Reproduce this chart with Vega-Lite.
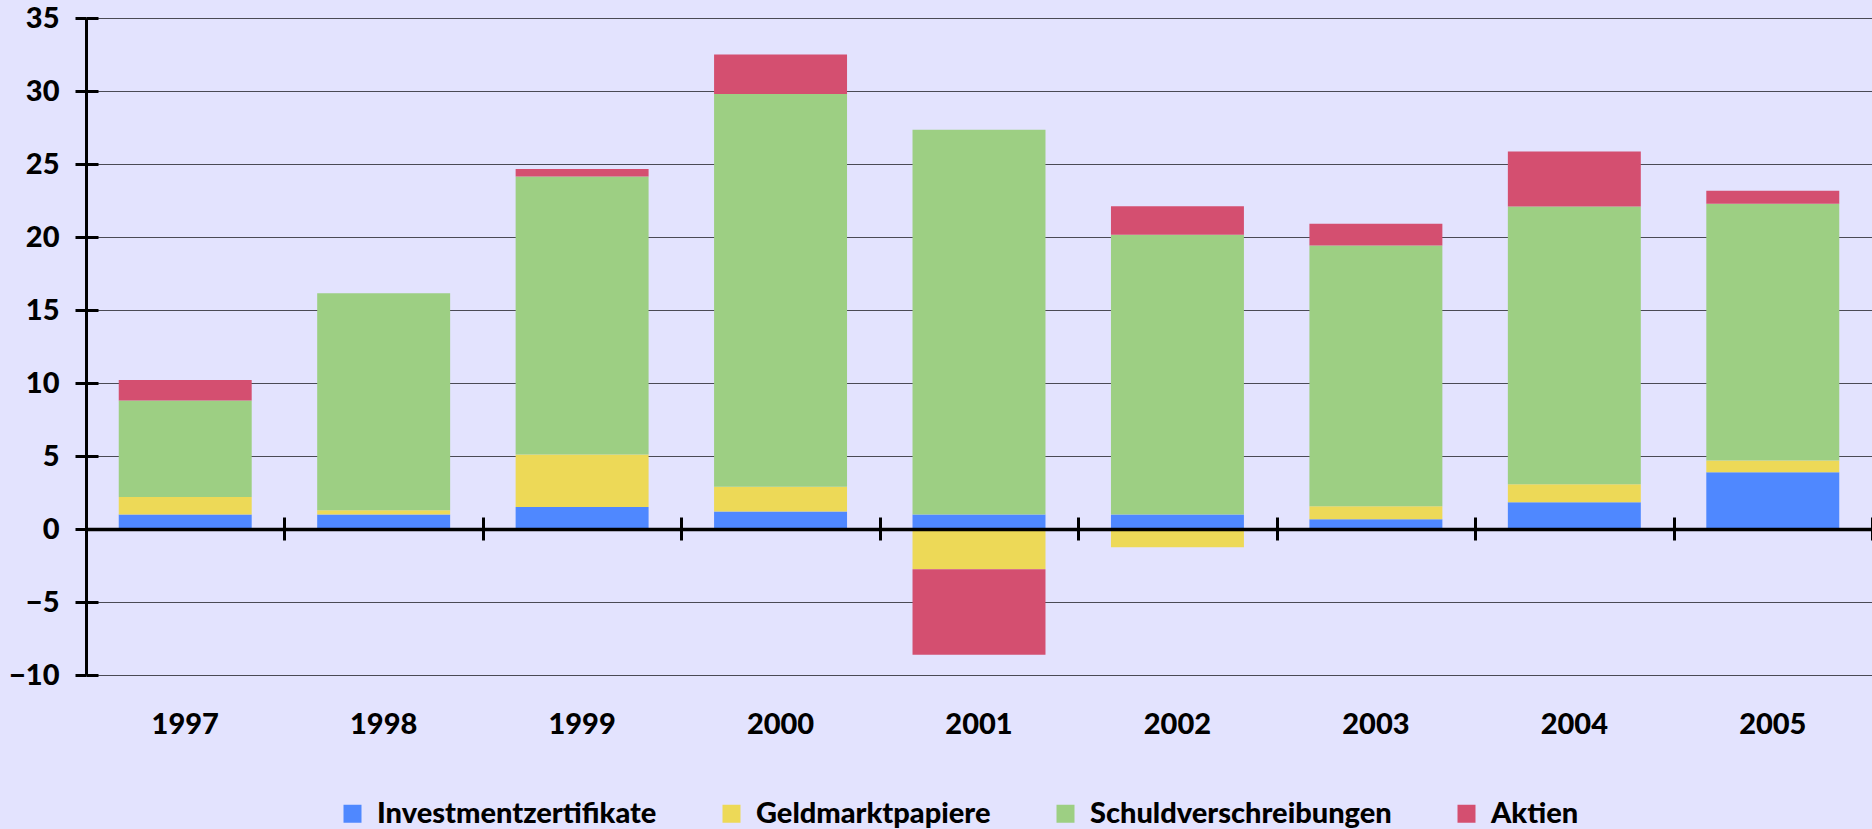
{
  "$schema": "https://vega.github.io/schema/vega-lite/v6.json",
  "width": 1786,
  "height": 657,
  "autosize": {"type": "none"},
  "padding": {"left": 86, "top": 18, "right": 0, "bottom": 154},
  "background": "#E3E3FE",
  "config": {
    "view": {"stroke": null},
    "font": "Lato",
    "axis": {"labelFont": "Lato", "labelFontWeight": 900, "labelColor": "#000000"},
    "legend": {"labelFont": "Lato", "labelFontWeight": 900, "labelColor": "#000000"}
  },
  "datasets": {
    "series": [
      {"type": "Investmentzertifikate", "stackOrder": 1},
      {"type": "Geldmarktpapiere", "stackOrder": 2},
      {"type": "Schuldverschreibungen", "stackOrder": 3},
      {"type": "Aktien", "stackOrder": 4}
    ]
  },
  "data": {
    "values": [
      {"year": "1997", "type": "Investmentzertifikate", "value": 1.0},
      {"year": "1997", "type": "Geldmarktpapiere", "value": 1.2},
      {"year": "1997", "type": "Schuldverschreibungen", "value": 6.6},
      {"year": "1997", "type": "Aktien", "value": 1.4},
      {"year": "1998", "type": "Investmentzertifikate", "value": 1.0},
      {"year": "1998", "type": "Geldmarktpapiere", "value": 0.28},
      {"year": "1998", "type": "Schuldverschreibungen", "value": 14.87},
      {"year": "1998", "type": "Aktien", "value": -0.05},
      {"year": "1999", "type": "Investmentzertifikate", "value": 1.5},
      {"year": "1999", "type": "Geldmarktpapiere", "value": 3.6},
      {"year": "1999", "type": "Schuldverschreibungen", "value": 19.05},
      {"year": "1999", "type": "Aktien", "value": 0.5},
      {"year": "2000", "type": "Investmentzertifikate", "value": 1.2},
      {"year": "2000", "type": "Geldmarktpapiere", "value": 1.7},
      {"year": "2000", "type": "Schuldverschreibungen", "value": 26.9},
      {"year": "2000", "type": "Aktien", "value": 2.7},
      {"year": "2001", "type": "Investmentzertifikate", "value": 1.0},
      {"year": "2001", "type": "Geldmarktpapiere", "value": -2.75},
      {"year": "2001", "type": "Schuldverschreibungen", "value": 26.35},
      {"year": "2001", "type": "Aktien", "value": -5.87},
      {"year": "2002", "type": "Investmentzertifikate", "value": 1.0},
      {"year": "2002", "type": "Geldmarktpapiere", "value": -1.25},
      {"year": "2002", "type": "Schuldverschreibungen", "value": 19.15},
      {"year": "2002", "type": "Aktien", "value": 1.95},
      {"year": "2003", "type": "Investmentzertifikate", "value": 0.66},
      {"year": "2003", "type": "Geldmarktpapiere", "value": 0.89},
      {"year": "2003", "type": "Schuldverschreibungen", "value": 17.87},
      {"year": "2003", "type": "Aktien", "value": 1.48},
      {"year": "2004", "type": "Investmentzertifikate", "value": 1.83},
      {"year": "2004", "type": "Geldmarktpapiere", "value": 1.23},
      {"year": "2004", "type": "Schuldverschreibungen", "value": 19.03},
      {"year": "2004", "type": "Aktien", "value": 3.76},
      {"year": "2005", "type": "Investmentzertifikate", "value": 3.88},
      {"year": "2005", "type": "Geldmarktpapiere", "value": 0.82},
      {"year": "2005", "type": "Schuldverschreibungen", "value": 17.58},
      {"year": "2005", "type": "Aktien", "value": 0.89}
    ]
  },
  "transform": [
    {"lookup": "type", "from": {"data": {"name": "series"}, "key": "type", "fields": ["stackOrder"]}}
  ],
  "layer": [
    {
      "mark": {"type": "bar"},
      "encoding": {
        "x": {
          "field": "year", "type": "nominal",
          "scale": {"paddingInner": 0.33, "paddingOuter": 0.165},
          "axis": {"orient": "bottom", "title": null, "domain": false, "ticks": false, "labelAngle": 0, "labelFontSize": 29, "labelPadding": 35}
        },
        "y": {
          "field": "value", "type": "quantitative",
          "scale": {"domain": [-10, 35], "nice": false},
          "axis": {"orient": "left", "title": null, "values": [-10, -5, 0, 5, 10, 15, 20, 25, 30, 35], "labelFontSize": 29, "labelPadding": 16, "tickSize": 11, "tickWidth": 3, "tickColor": "#000000", "domainColor": "#000000", "domainWidth": 3, "grid": true, "gridColor": "#4a4a55", "gridWidth": 1.2, "gridOpacity": 1}
        },
        "order": {"field": "stackOrder", "type": "quantitative", "sort": "ascending"},
        "color": {
          "field": "type", "type": "nominal",
          "scale": {"domain": ["Investmentzertifikate", "Geldmarktpapiere", "Schuldverschreibungen", "Aktien"], "range": ["#4F88FF", "#EDD957", "#9DCF83", "#D44F70"]},
          "legend": {"orient": "none", "direction": "horizontal", "legendX": 252, "legendY": 781, "title": null, "symbolType": "square", "symbolSize": 324, "symbolOpacity": 1, "symbolStrokeWidth": 0, "labelFontSize": 29, "labelOffset": 10, "columnPadding": 60, "labelLimit": 400}
        }
      }
    },
    {
      "mark": {"type": "bar", "opacity": 0},
      "encoding": {
        "x": {
          "field": "year", "type": "nominal",
          "axis": {"orient": "bottom", "title": null, "offset": -146, "labels": false, "domain": true, "domainColor": "#000000", "domainWidth": 3.5, "ticks": true, "tickSize": 11, "tickWidth": 3, "tickColor": "#000000", "bandPosition": 0.5, "tickOffset": 99.2, "zindex": 1}
        },
        "y": {
          "field": "value", "type": "quantitative",
          "axis": {"orient": "left", "title": null, "labels": false, "domain": false, "grid": false, "values": [-10, -5, 0, 5, 10, 15, 20, 25, 30, 35], "tickSize": -12, "tickWidth": 3, "tickColor": "#000000", "zindex": 1}
        }
      }
    },
    {
      "mark": {"type": "bar", "opacity": 0},
      "encoding": {
        "x": {
          "field": "year", "type": "nominal",
          "axis": {"orient": "bottom", "title": null, "offset": -146, "labels": false, "domain": false, "ticks": true, "tickSize": -12, "tickWidth": 3, "tickColor": "#000000", "bandPosition": 0.5, "tickOffset": 99.2, "zindex": 1}
        },
        "y": {
          "field": "value", "type": "quantitative",
          "axis": null
        }
      }
    }
  ],
  "resolve": {"axis": {"x": "independent", "y": "independent"}}
}
